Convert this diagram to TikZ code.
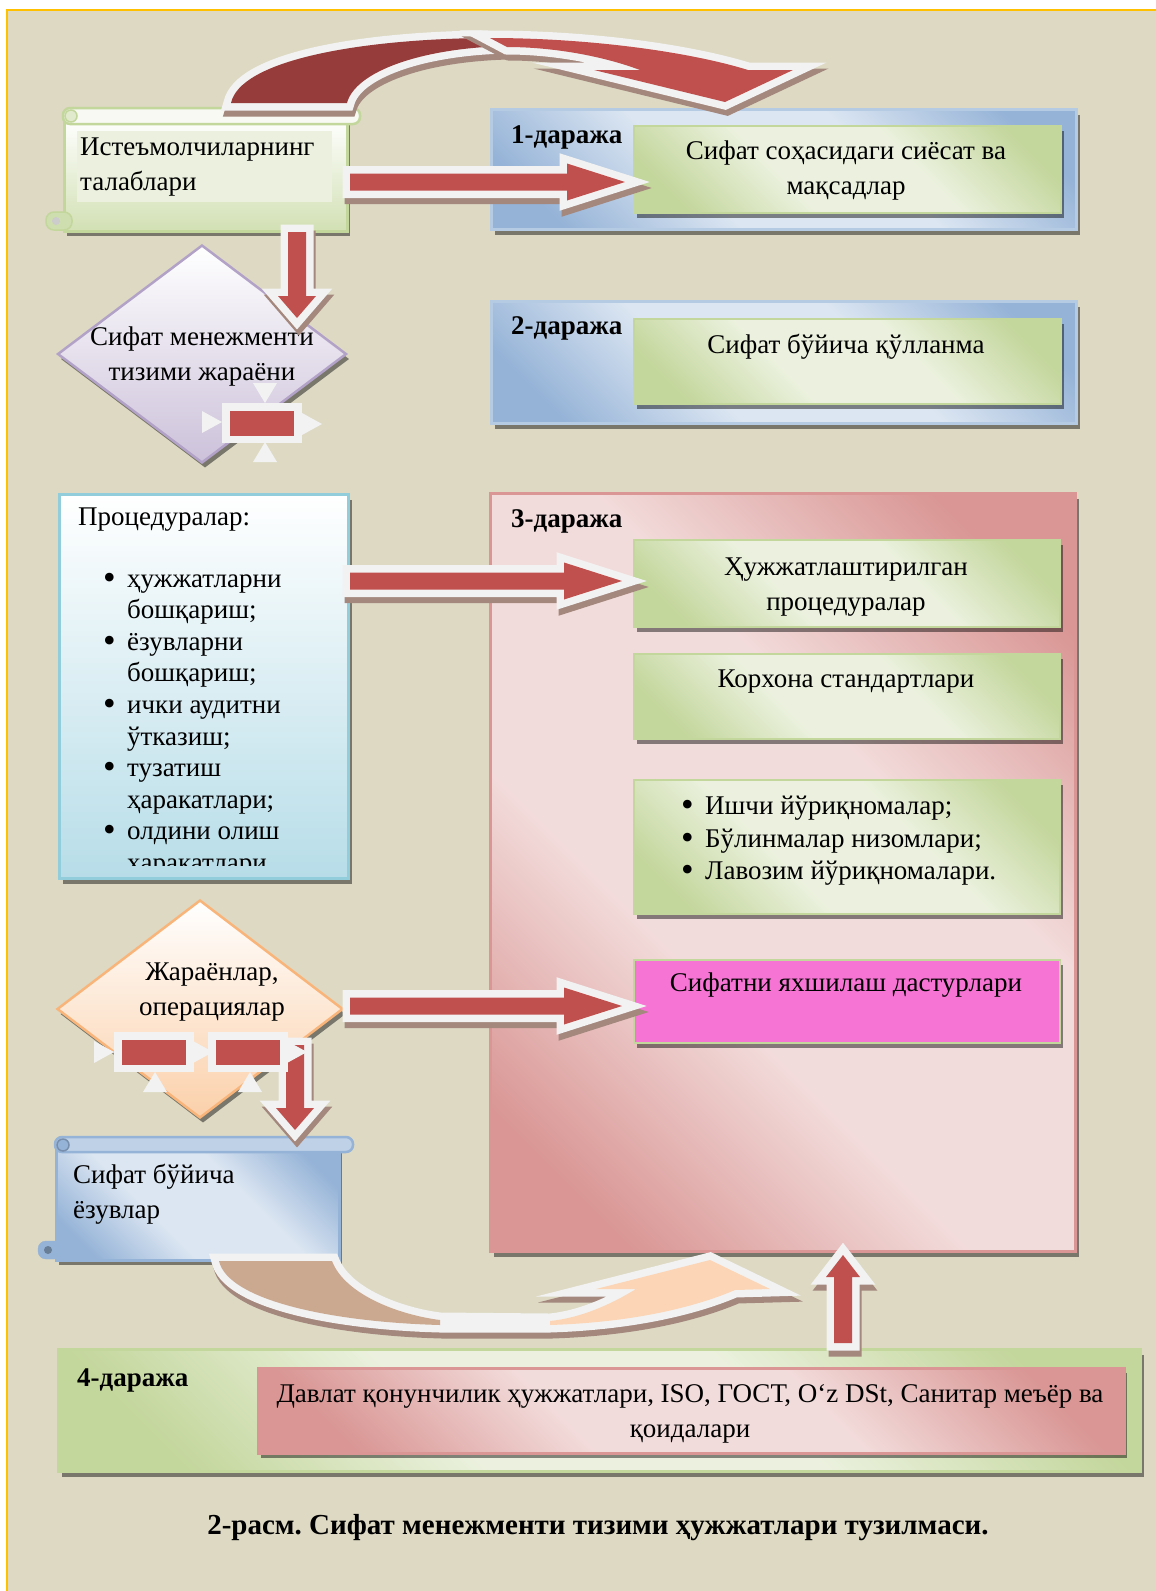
\documentclass[tikz,border=0pt]{standalone}
\usepackage{fontspec}
\setmainfont{Liberation Serif}
\usetikzlibrary{shapes.geometric,shadows,calc}

\definecolor{paper}{HTML}{DDD9C3}
\definecolor{frameyellow}{HTML}{FFC000}
\definecolor{arrowred}{HTML}{C0504D}
\definecolor{arrowdark}{HTML}{963C3A}
\definecolor{arrowtan}{HTML}{CBA991}
\definecolor{arrowpeach}{HTML}{FBD5B5}
\definecolor{edgewhite}{HTML}{F2F2F2}
\definecolor{arrowshade}{HTML}{A4877D}
\definecolor{blueD}{HTML}{95B3D7}
\definecolor{blueL}{HTML}{DCE6F2}
\definecolor{greenD}{HTML}{C3D69B}
\definecolor{greenL}{HTML}{EBF1DE}
\definecolor{pinkD}{HTML}{D99694}
\definecolor{pinkL}{HTML}{F2DCDB}
\definecolor{lilac}{HTML}{CCC1DA}
\definecolor{lilacline}{HTML}{B3A2C7}
\definecolor{orangeL}{HTML}{FBD0AA}
\definecolor{orangeline}{HTML}{F9B47A}
\definecolor{procblue}{HTML}{B7DDE8}
\definecolor{procline}{HTML}{92CDDC}
\definecolor{magentabox}{HTML}{F675D4}

\colorlet{diagD}{blueD}
\colorlet{diagL}{blueL}
\pgfdeclarehorizontalshading[diagD,diagL]{diag}{100bp}{color(0bp)=(diagD); color(22bp)=(diagD);
  color(40bp)=(diagL); color(60bp)=(diagL); color(78bp)=(diagD); color(100bp)=(diagD)}

\newcommand{\docfont}{\fontsize{27}{35}\selectfont}
\newcommand{\listfont}{\fontsize{27}{31.6}\selectfont}
\newcommand{\bulletline}{\makebox[24pt][l]{\raisebox{-2pt}{\fontsize{36}{0}\selectfont•}}}
\newcommand{\contline}{\hspace*{24pt}}

\tikzset{
  boxshadow/.style={drop shadow={shadow xshift=3pt,shadow yshift=-5pt,opacity=.45,fill=black}},
  diagbox/.style 2 args={/utils/exec={\colorlet{diagD}{#1}\colorlet{diagL}{#2}}, shade, shading=diag, shading angle=45},
  panel/.style={rectangle, inner sep=0pt, anchor=north west, boxshadow},
  boxtext/.style={align=center, inner sep=0pt},
  levlabel/.style={font=\docfont\bfseries, anchor=west, inner sep=0pt},
  blockarrow/.style={fill=arrowred, line join=miter,
    preaction={draw=arrowshade, fill=arrowshade, line width=15pt, transform canvas={shift={(2pt,-6pt)}}},
    preaction={draw=edgewhite, line width=15pt}},
  ribbon/.style={fill=#1, line join=miter,
    preaction={draw=arrowshade, fill=arrowshade, line width=15pt, transform canvas={shift={(2pt,-6pt)}}},
    preaction={draw=edgewhite, line width=15pt}},
}

% fat arrow: tail, tip, shaft half width, head half width, head length
\newcommand{\blockarrow}[5]{%
  \coordinate (headbase) at ($(#2)!#5!(#1)$);
  \path[blockarrow] ($(#1)!#3!90:(#2)$) -- ($(headbase)!#3!90:(#2)$) -- ($(headbase)!#4!90:(#2)$) -- (#2)
    -- ($(headbase)!#4!-90:(#2)$) -- ($(headbase)!#3!-90:(#2)$) -- ($(#1)!#3!-90:(#2)$) -- cycle;}

% little process icons inside the diamonds
\newcommand{\iconframe}[2]{%
  \fill[edgewhite] (#1-40,#2-20) rectangle (#1+40,#2+20);
  \fill[arrowred] (#1-32,#2-12.5) rectangle (#1+32,#2+12.5);}
\newcommand{\tipright}[2]{\fill[edgewhite] (#1,#2-11) -- (#1+20,#2) -- (#1,#2+11) -- cycle;}
\newcommand{\tipup}[2]{\fill[edgewhite] (#1-12,#2) -- (#1,#2-20) -- (#1+12,#2) -- cycle;}
\newcommand{\tipdown}[2]{\fill[edgewhite] (#1-12,#2) -- (#1,#2+20) -- (#1+12,#2) -- cycle;}

\frenchspacing
\begin{document}
\begin{tikzpicture}[x=1pt, y=-1pt, font=\docfont]
    \useasboundingbox (0,0) rectangle (1156,1591);
    % page
    \fill[white] (0,0) rectangle (1156,1591);
    \fill[paper] (7,10) rectangle (1156,1591);
    \draw[frameyellow, line width=2.5pt] (7,1591) -- (7,10) -- (1156,10);

    % level 1 and 2
    \node[panel, diagbox={blueD}{blueL}, draw=blueD!70!white, line width=3pt, minimum width=585pt, minimum height=120pt] (lvl1) at (490,108) {};
    \node[levlabel] (lvl1lab) at (511,137) {1-даража};
    \node[panel, diagbox={greenD}{greenL}, draw=greenD, line width=2pt, minimum width=427pt, minimum height=87pt] (pol) at (633,125) {};
    \node[boxtext] (poltxt) at (846,171) {Сифат соҳасидаги сиёсат ва\\мақсадлар};

    \node[panel, diagbox={blueD}{blueL}, draw=blueD!70!white, line width=3pt, minimum width=585pt, minimum height=122pt] (lvl2) at (490,300) {};
    \node[levlabel] (lvl2lab) at (511,328) {2-даража};
    \node[panel, diagbox={greenD}{greenL}, draw=greenD, line width=2pt, minimum width=427pt, minimum height=85pt] (man) at (633,318) {};
    \node[boxtext] (mantxt) at (846,347) {Сифат бўйича қўлланма};

    % level 3
    \node[panel, diagbox={pinkD}{pinkL}, draw=pinkD, line width=3pt, minimum width=585pt, minimum height=758pt] (lvl3) at (489,492) {};
    \node[levlabel] (lvl3lab) at (511,521) {3-даража};
    \node[panel, diagbox={greenD}{greenL}, draw=greenD, line width=2pt, minimum width=426pt, minimum height=87pt] (docp) at (633,539) {};
    \node[boxtext] (docptxt) at (846,587) {Ҳужжатлаштирилган\\процедуралар};
    \node[panel, diagbox={greenD}{greenL}, draw=greenD, line width=2pt, minimum width=426pt, minimum height=85pt] (std) at (633,653) {};
    \node[boxtext] (stdtxt) at (846,682) {Корхона стандартлари};
    \node[panel, diagbox={greenD}{greenL}, draw=greenD, line width=2pt, minimum width=426pt, minimum height=134pt] (ins) at (633,779) {};
    \node[anchor=west, align=left, inner sep=0pt, font=\fontsize{27}{32.5}\selectfont] (instxt) at (681,841)
        {\bulletline Ишчи йўриқномалар;\\\bulletline Бўлинмалар низомлари;\\\bulletline Лавозим йўриқномалари.};
    \node[panel, fill=magentabox, draw=greenD, line width=2pt, minimum width=426pt, minimum height=83pt] (imp) at (633,959) {};
    \node[boxtext] (imptxt) at (846,985) {Сифатни яхшилаш дастурлари};

    % procedures
    \node[panel, top color=white, bottom color=procblue, draw=procline, line width=3pt, minimum width=289pt, minimum height=384pt] (proc) at (58,493) {};
    \node[anchor=west, inner sep=0pt] (proctitle) at (78,520) {Процедуралар:};
    \begin{scope}
        \clip (60,495) rectangle (345,865);
        \node[anchor=west, align=left, inner sep=0pt, font=\listfont] (proclist) at (103,725)
            {\bulletline ҳужжатларни\\\contline бошқариш;\\\bulletline ёзувларни\\\contline бошқариш;\\
             \bulletline ички аудитни\\\contline ўтказиш;\\\bulletline тузатиш\\\contline ҳаракатлари;\\
             \bulletline олдини олиш\\\contline ҳаракатлари.};
    \end{scope}

    % level 4
    \node[panel, diagbox={greenD}{greenL}, draw=greenD, line width=3pt, minimum width=1082pt, minimum height=122pt] (lvl4) at (57,1348) {};
    \node[levlabel] (lvl4lab) at (77,1380) {4-даража};
    \node[panel, diagbox={pinkD}{pinkL}, draw=pinkD, line width=2.5pt, minimum width=866pt, minimum height=85pt] (law) at (257,1367) {};
    \node[boxtext] (lawtxt) at (690,1414) {Давлат қонунчилик ҳужжатлари, ISO, ГОСТ, O‘z DSt, Санитар меъёр ва\\қоидалари};

    % requirements scroll
    \node[panel, top color=white, bottom color=greenD!75!white, draw=greenD, line width=2.5pt, minimum width=283pt, minimum height=114pt] (req) at (63,116) {};
    \filldraw[draw=greenD, fill=greenL!40!white, line width=2.5pt, rounded corners=7pt] (63,108) rectangle (360,124);
    \filldraw[draw=greenD, fill=greenD!50!white, line width=1.5pt] (71,116) circle (6);
    \filldraw[draw=greenD, fill=greenD!80!white, line width=1.5pt, rounded corners=8pt] (46,212) rectangle (72,230);
    \fill[gray!40] (56,221) circle (4);
    \node[fill=greenL, anchor=north west, minimum width=255pt, minimum height=71pt, text width=249pt, inner sep=3pt, align=left] (reqtxt) at (77,131) {Истеъмолчиларнинг\\талаблари};

    % records scroll
    \node[panel, diagbox={blueD}{blueL}, draw=blueD, line width=2.5pt, minimum width=283pt, minimum height=114pt] (rec) at (55,1145) {};
    \filldraw[draw=blueD, fill=blueD!60!white, line width=2.5pt, rounded corners=7pt] (55,1137) rectangle (353,1152);
    \filldraw[draw=blueD!80!black, fill=blueD, line width=1.5pt] (63,1145) circle (6);
    \filldraw[draw=blueD, fill=blueD, rounded corners=8pt] (38,1241) rectangle (62,1259);
    \fill[blueD!70!black] (48,1250) circle (4);
    \node[anchor=west, align=left, inner sep=0pt] (rectxt) at (73,1194) {Сифат бўйича\\ёзувлар};

    % diamonds
    \node[diamond, draw=lilacline, line width=2.5pt, top color=white, bottom color=lilac, minimum width=289pt, minimum height=218pt, inner sep=0pt, boxshadow] (sms) at (202,354) {};
    \node[boxtext] (smstxt) at (202,356) {Сифат менежменти\\тизими жараёни};
    \node[diamond, draw=orangeline, line width=2.5pt, top color=white, bottom color=orangeL, minimum width=286pt, minimum height=218pt, inner sep=0pt, boxshadow] (ops) at (200,1009) {};
    \node[boxtext] (opstxt) at (212,992) {Жараёнлар,\\операциялар};

    % curved arrow over the top
    \path[ribbon=arrowdark] (231,103) .. controls (240,62) and (350,40) .. (480,38) -- (507,46) .. controls (420,48) and (355,72) .. (347,103) -- cycle;
    \path[ribbon=arrowred] (490,38) .. controls (590,38) and (690,52) .. (748,70) -- (793,70) -- (725,102) -- (594,70) -- (640,70) .. controls (600,55) and (550,47) .. (507,47) -- cycle;

    % straight arrows
    \coordinate (reqout) at (350,182);
    \coordinate (polin) at (625,182);
    \blockarrow{reqout}{polin}{8.5pt}{18.5pt}{58pt}
    \coordinate (reqdown) at (297,232);
    \coordinate (smsin) at (297,318);
    \blockarrow{reqdown}{smsin}{9pt}{19pt}{22pt}
    \coordinate (procout) at (350,581);
    \coordinate (docpin) at (622,581);
    \blockarrow{procout}{docpin}{8.5pt}{18.5pt}{58pt}
    \coordinate (opsout) at (350,1006);
    \coordinate (impin) at (622,1006);
    \blockarrow{opsout}{impin}{8.5pt}{18.5pt}{58pt}
    \coordinate (opsdown) at (295,1045);
    \coordinate (recin) at (295,1130);
    \blockarrow{opsdown}{recin}{9pt}{19pt}{22pt}

    % curved arrow at the bottom
    \path[ribbon=edgewhite] (219,1261) -- (332,1261) .. controls (345,1295) and (400,1315) .. (440,1320) -- (550,1321)
        .. controls (580,1318) and (610,1305) .. (636,1289) -- (596,1289) -- (710,1260) -- (770,1289) -- (735,1290)
        .. controls (700,1305) and (640,1322) .. (550,1325) -- (440,1325) .. controls (330,1322) and (228,1300) .. (219,1261) -- cycle;
    \fill[arrowtan] (219,1261) -- (332,1261) .. controls (345,1295) and (400,1315) .. (440,1320) -- (440,1325)
        .. controls (330,1322) and (228,1300) .. (219,1261) -- cycle;
    \fill[arrowpeach] (550,1325) .. controls (640,1322) and (700,1305) .. (735,1290) -- (770,1289) -- (710,1260)
        -- (596,1289) -- (636,1289) .. controls (610,1305) and (580,1318) .. (550,1321) -- cycle;
    \coordinate (lawout) at (843,1343);
    \coordinate (lvl3in) at (843,1255);
    \blockarrow{lawout}{lvl3in}{9pt}{17pt}{22pt}

    % icons
    \iconframe{262}{423}
    \tipright{202}{422}
    \tipright{302}{424}
    \tipdown{265}{383}
    \tipup{265}{462}
    \iconframe{154}{1052}
    \iconframe{248}{1052}
    \tipright{94}{1052}
    \tipright{193}{1052}
    \tipright{287}{1052}
    \tipup{155}{1092}
    \tipup{250}{1092}

    % caption
    \node[font=\fontsize{29}{35}\selectfont\bfseries, inner sep=0pt] (caption) at (598,1528) {2-расм. Сифат менежменти тизими ҳужжатлари тузилмаси.};
\end{tikzpicture}
\end{document}
